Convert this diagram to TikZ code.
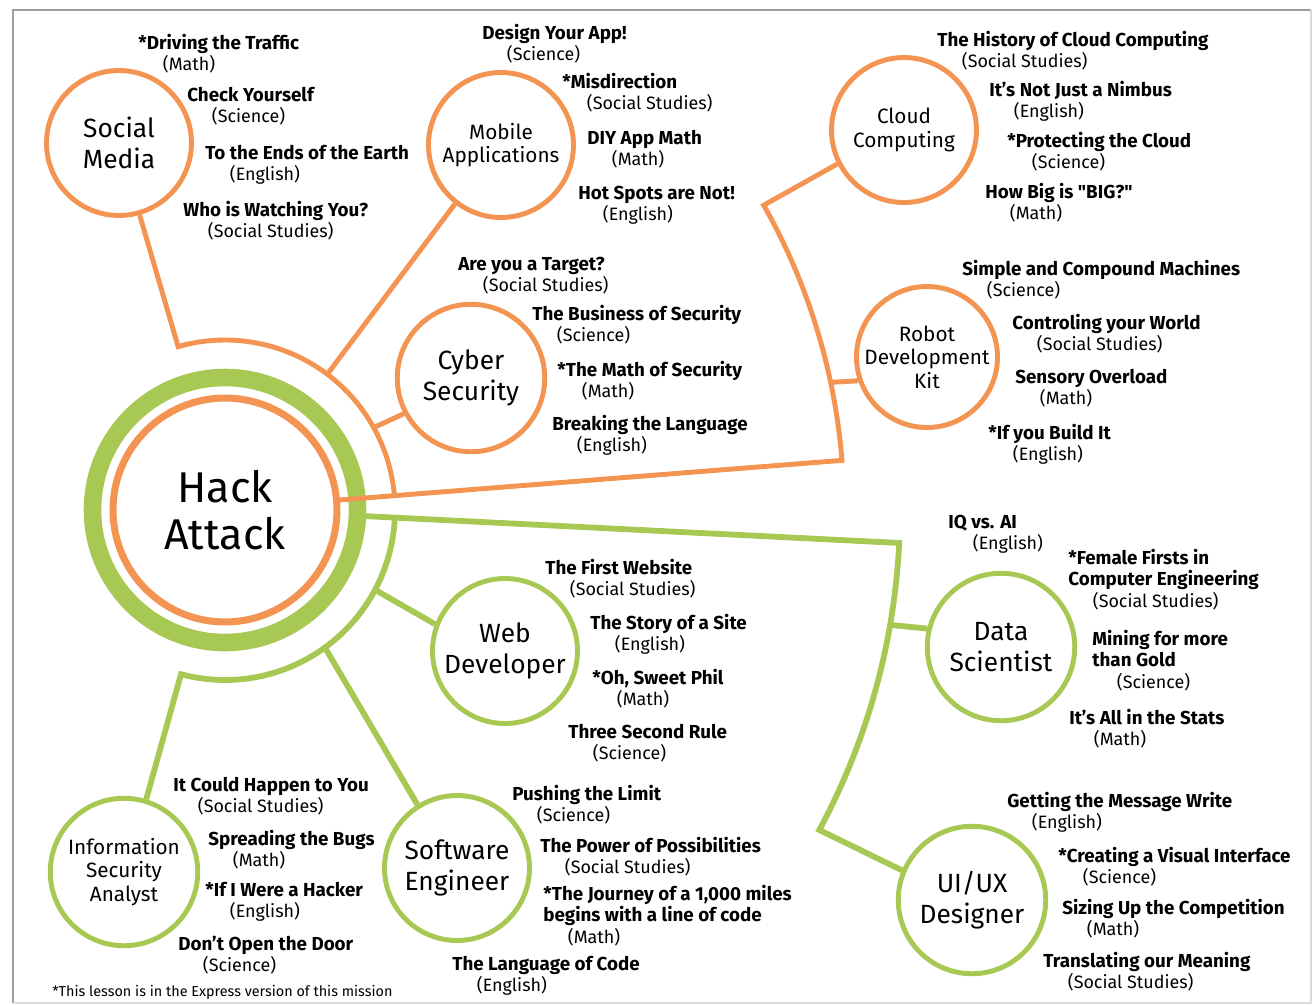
\documentclass[tikz,border=0pt]{standalone}
\usepackage{fontspec}
\setmainfont{Fira Sans}
\usetikzlibrary{calc}

\definecolor{hackorange}{RGB}{244,148,82}
\definecolor{hackgreen}{RGB}{168,200,84}
\newcommand{\ttl}[1]{{\fontsize{10.7}{12.3}\selectfont\bfseries #1}}
\newcommand{\sbj}[1]{\\\hspace*{14pt}#1}

\begin{document}
\begin{tikzpicture}[x=0.02cm, y=0.02cm,
    topic/.style={circle, line width=2.8pt, fill=white, minimum size=2.9cm, inner sep=0pt, align=center},
    otopic/.style={topic, draw=hackorange},
    gtopic/.style={topic, draw=hackgreen},
    big/.style={font=\fontsize{15}{17.5}\selectfont},
    small/.style={font=\fontsize{11.8}{13.4}\selectfont},
    oline/.style={draw=hackorange, line width=2.8pt},
    gline/.style={draw=hackgreen, line width=3.3pt},
    lesson/.style={anchor=north west, yshift=4.8pt, inner sep=0pt, align=left, font=\fontsize{10.2}{12.3}\selectfont}]
        \useasboundingbox (0,0) rectangle (1313,-1005);
        \draw [gray!75, line width=1.2pt] (13,-1003) -- (13,-10) -- (1311,-10);
        \draw [gray!30, line width=0.8pt] (13,-1003) -- (1311,-1003) -- (1311,-10);
        % centre
        \draw [hackgreen, line width=10pt] (225,-510) circle (132.5);
        \node [otopic, line width=4pt, minimum size=4.48cm, font=\fontsize{24.5}{26.6}\selectfont] (ha) at (225,-510) {Hack\\Attack};
        % orange topics
        \node [otopic, big] (sm) at (119,-143) {Social\\Media};
        \node [otopic, small] (ma) at (501,-145) {Mobile\\Applications};
        \node [otopic, big, minimum size=2.95cm] (cs) at (471,-378) {Cyber\\Security};
        \node [otopic, small] (cc) at (904,-130) {Cloud\\Computing};
        \node [otopic, small, minimum size=2.82cm] (rk) at (927,-357) {Robot\\Development\\Kit};
        % green topics
        \node [gtopic, big] (wd) at (505,-651) {Web\\Developer};
        \node [gtopic, big] (se) at (457,-868) {Software\\Engineer};
        \node [gtopic, small, minimum size=2.95cm] (isa) at (124,-872) {Information\\Security\\Analyst};
        \node [gtopic, big, minimum size=2.95cm] (ds) at (1001,-647) {Data\\Scientist};
        \node [gtopic, big, minimum size=2.95cm] (ux) at (972,-900) {UI/UX\\Designer};
        % orange branches
        \draw [oline] (sm.286) -- ($(ha.center)+(106:170)$) arc [start angle=106, end angle=5, radius=170];
        \draw [oline] (ha.5) -- ($(ha.center)+(4.6:619)$) arc [start angle=4.6, end angle=29.5, radius=619] -- (cc.207);
        \draw [oline] ($(ha.center)+(53:170)$) -- (ma.232);
        \draw [oline] ($(ha.center)+(29:170)$) -- (cs.208);
        \draw [oline] ($(ha.center)+(11.9:619)$) -- (rk.199);
        % green branches
        \draw [gline] ($(ha.center)+(-2.5:139)$) -- ($(ha.center)+(-2.8:675)$) arc [start angle=-2.8, end angle=-28.3, radius=675] -- (ux.157);
        \draw [gline] ($(ha.center)+(-3.3:170)$) arc [start angle=-3.3, end angle=-105, radius=170] -- (isa.73);
        \draw [gline] ($(ha.center)+(-54:170)$) -- (se.122);
        \draw [gline] ($(ha.center)+(-28:170)$) -- (wd.159);
        \draw [gline] ($(ha.center)+(-9.8:675)$) -- (ds.166);
        % lessons: social media
        \node [lesson] (sm1) at (138,-42) {\ttl{*Driving the Traffic}\sbj{(Math)}};
        \node [lesson] (sm2) at (187,-95) {\ttl{Check Yourself}\sbj{(Science)}};
        \node [lesson] (sm3) at (205,-153) {\ttl{To the Ends of the Earth}\sbj{(English)}};
        \node [lesson] (sm4) at (183,-209) {\ttl{Who is Watching You?}\sbj{(Social Studies)}};
        % mobile applications
        \node [lesson] (ma1) at (482,-32) {\ttl{Design Your App!}\sbj{(Science)}};
        \node [lesson] (ma2) at (562,-81) {\ttl{*Misdirection}\sbj{(Social Studies)}};
        \node [lesson] (ma3) at (587,-138) {\ttl{DIY App Math}\sbj{(Math)}};
        \node [lesson] (ma4) at (578,-194) {\ttl{Hot Spots are Not!}\sbj{(English)}};
        % cyber security
        \node [lesson] (cs1) at (458,-265) {\ttl{Are you a Target?}\sbj{(Social Studies)}};
        \node [lesson] (cs2) at (532,-313) {\ttl{The Business of Security}\sbj{(Science)}};
        \node [lesson] (cs3) at (557,-369) {\ttl{*The Math of Security}\sbj{(Math)}};
        \node [lesson] (cs4) at (552,-423) {\ttl{Breaking the Language}\sbj{(English)}};
        % cloud computing
        \node [lesson] (cc1) at (937,-39) {\ttl{The History of Cloud Computing}\sbj{(Social Studies)}};
        \node [lesson] (cc2) at (989,-89) {\ttl{It's Not Just a Nimbus}\sbj{(English)}};
        \node [lesson] (cc3) at (1007,-140) {\ttl{*Protecting the Cloud}\sbj{(Science)}};
        \node [lesson] (cc4) at (985,-191) {\ttl{How Big is \textquotedbl BIG?\textquotedbl}\sbj{(Math)}};
        % robot development kit
        \node [lesson] (rk1) at (962,-268) {\ttl{Simple and Compound Machines}\sbj{(Science)}};
        \node [lesson] (rk2) at (1012,-322) {\ttl{Controling your World}\sbj{(Social Studies)}};
        \node [lesson] (rk3) at (1015,-377) {\ttl{Sensory Overload}\sbj{(Math)}};
        \node [lesson] (rk4) at (988,-432) {\ttl{*If you Build It}\sbj{(English)}};
        % web developer
        \node [lesson] (wd1) at (545,-567) {\ttl{The First Website}\sbj{(Social Studies)}};
        \node [lesson] (wd2) at (590,-622) {\ttl{The Story of a Site}\sbj{(English)}};
        \node [lesson] (wd3) at (592,-677) {\ttl{*Oh, Sweet Phil}\sbj{(Math)}};
        \node [lesson] (wd4) at (568,-732) {\ttl{Three Second Rule}\sbj{(Science)}};
        % software engineer
        \node [lesson] (se1) at (512,-793) {\ttl{Pushing the Limit}\sbj{(Science)}};
        \node [lesson] (se2) at (540,-845) {\ttl{The Power of Possibilities}\sbj{(Social Studies)}};
        \node [lesson] (se3) at (543,-893) {\ttl{*The Journey of a 1,000 miles}\\\ttl{begins with a line of code}\sbj{(Math)}};
        \node [lesson] (se4) at (452,-964) {\ttl{The Language of Code}\sbj{(English)}};
        % information security analyst
        \node [lesson] (is1) at (173,-785) {\ttl{It Could Happen to You}\sbj{(Social Studies)}};
        \node [lesson] (is2) at (208,-838) {\ttl{Spreading the Bugs}\sbj{(Math)}};
        \node [lesson] (is3) at (205,-890) {\ttl{*If I Were a Hacker}\sbj{(English)}};
        \node [lesson] (is4) at (178,-944) {\ttl{Don't Open the Door}\sbj{(Science)}};
        % data scientist
        \node [lesson] (ds1) at (948,-523) {\ttl{IQ vs. AI}\sbj{(English)}};
        \node [lesson] (ds2) at (1068,-557) {\ttl{*Female Firsts in}\\\ttl{Computer Engineering}\sbj{(Social Studies)}};
        \node [lesson] (ds3) at (1092,-638) {\ttl{Mining for more}\\\ttl{than Gold}\sbj{(Science)}};
        \node [lesson] (ds4) at (1069,-717) {\ttl{It's All in the Stats}\sbj{(Math)}};
        % ui/ux designer
        \node [lesson] (ux1) at (1007,-800) {\ttl{Getting the Message Write}\sbj{(English)}};
        \node [lesson] (ux2) at (1058,-855) {\ttl{*Creating a Visual Interface}\sbj{(Science)}};
        \node [lesson] (ux3) at (1062,-907) {\ttl{Sizing Up the Competition}\sbj{(Math)}};
        \node [lesson] (ux4) at (1043,-960) {\ttl{Translating our Meaning}\sbj{(Social Studies)}};
        % footnote
        \node [anchor=west, inner sep=0pt, font=\fontsize{8.2}{9}\selectfont] (note) at (52,-992) {*This lesson is in the Express version of this mission};
    \end{tikzpicture}
\end{document}
